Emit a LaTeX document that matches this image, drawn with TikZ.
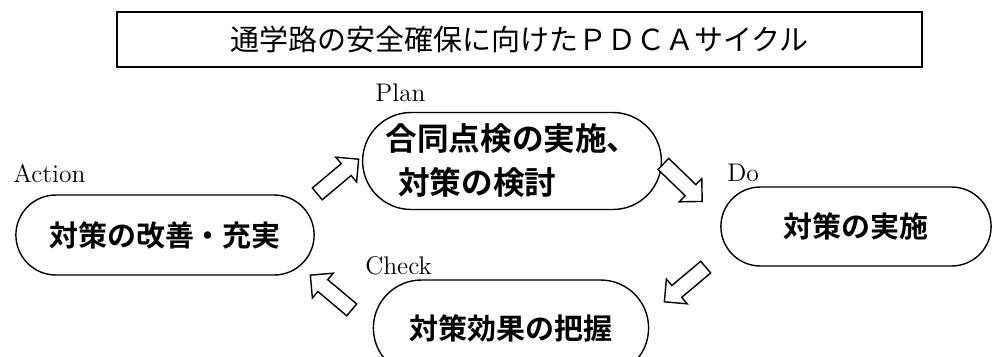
\documentclass[tikz,border=0pt]{standalone}
\usepackage{fontspec}
\newfontfamily\jpfont{Noto Sans CJK JP}
\newfontfamily\jpbold{Noto Sans CJK JP Bold}
\usetikzlibrary{shapes.misc,shapes.arrows}

\begin{document}
\begin{tikzpicture}[x=0.02cm, y=-0.02cm,
    stage/.style={rounded rectangle, draw, line width=0.8pt, font=\jpbold\fontsize{16.5pt}{20pt}\selectfont},
    phase/.style={anchor=base west, inner sep=0pt, font=\fontsize{14.5pt}{17pt}\selectfont},
    flow/.style={single arrow, draw, line width=0.8pt, fill=white, minimum height=1.08cm, inner sep=0.14cm, single arrow head extend=0.17cm}]
        \clip (0,0) rectangle (998,356);

        % Title
        \node at (519.5,39.5) (title) [draw, line width=1pt, minimum width=16.1cm, minimum height=1.1cm, font=\jpfont\fontsize{16.5pt}{20pt}\selectfont] {通学路の安全確保に向けたＰＤＣＡサイクル};

        % Stage boxes
        \node at (512,161) (plan) [stage, minimum width=5.8cm, minimum height=1.94cm, align=left, font=\jpbold\fontsize{18pt}{25pt}\selectfont] {合同点検の実施、\\\hspace*{0.4em}対策の検討};
        \node at (856,226.5) (do) [stage, minimum width=5.64cm, minimum height=1.58cm] {対策の実施};
        \node at (511,328) (check) [stage, minimum width=5.74cm, minimum height=1.92cm] {対策効果の把握};
        \node at (165,235) (act) [stage, minimum width=6.2cm, minimum height=1.6cm] {対策の改善・充実};

        % Phase labels
        \node at (375,101) (planlbl) [phase] {Plan};
        \node at (727,181) (dolbl) [phase] {Do};
        \node at (365,274) (checklbl) [phase] {Check};
        \node at (13,182) (actlbl) [phase] {Action};

        % Cycle arrows
        \node at (335,179) (a1) [flow, rotate=40] {};
        \node at (680,180) (a2) [flow, rotate=-44] {};
        \node at (688,282) (a3) [flow, rotate=-140] {};
        \node at (334,295) (a4) [flow, rotate=140] {};
    \end{tikzpicture}
\end{document}
